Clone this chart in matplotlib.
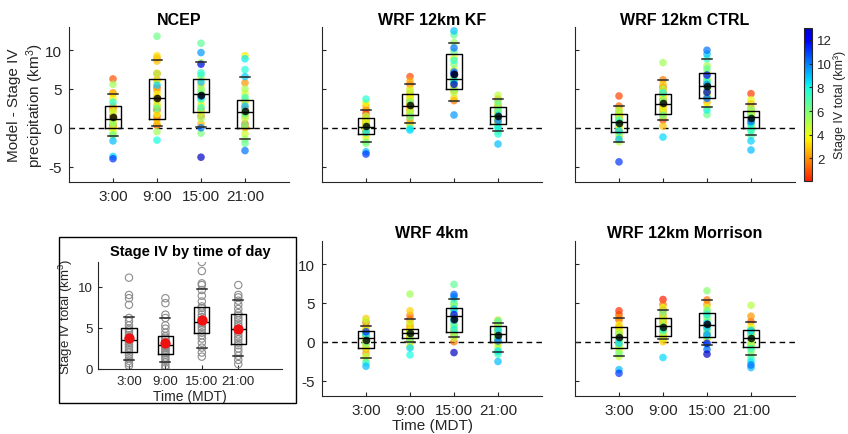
import numpy as np
import matplotlib
matplotlib.use("Agg")
import matplotlib.pyplot as plt
from matplotlib import rcParams
from matplotlib.colors import ListedColormap, Normalize
from matplotlib.patches import Rectangle

rcParams['font.family'] = 'sans-serif'
rcParams['font.sans-serif'] = ['Liberation Sans', 'DejaVu Sans']
rcParams['mathtext.default'] = 'regular'
rcParams['font.size'] = 10

times = ['3:00', '9:00', '15:00', '21:00']

# Stage IV totals per day (km^3), one list per time of day, sorted
stage4_03 = [0.4, 0.7, 1.0, 1.3, 1.7, 2.0, 2.3, 2.6, 2.9, 3.1, 3.3, 3.5, 3.6,
             3.8, 4.1, 4.4, 4.7, 4.9, 5.3, 5.8, 6.2, 7.8, 8.6, 9.0, 11.1]
stage4_09 = [0.1, 0.4, 0.8, 1.1, 1.4, 1.7, 1.9, 2.1, 2.3, 2.5, 2.7, 2.8, 2.9,
             3.1, 3.3, 3.6, 3.8, 4.0, 4.4, 4.9, 5.3, 6.2, 6.6, 8.0, 8.6]
stage4_15 = [1.5, 2.0, 2.6, 3.2, 3.7, 4.1, 4.4, 4.8, 5.1, 5.4, 5.6, 5.8, 6.0,
             6.3, 6.6, 7.0, 7.4, 7.6, 8.2, 8.9, 9.6, 10.2, 10.4, 11.9, 13.0]
stage4_21 = [0.6, 1.1, 1.6, 2.1, 2.5, 2.9, 3.2, 3.6, 3.9, 4.2, 4.5, 4.8, 4.9,
             5.2, 5.5, 5.9, 6.2, 6.5, 6.8, 7.3, 7.8, 8.3, 8.7, 9.0, 10.2]

# Model minus Stage IV, same day order as the stage4 lists
ncep_03 = [0.3, 1.5, 6.3, 2.5, 4.5, 0.2, 2.8, 1.1, 4.4, 1.3, 2.2, 0.0, 3.8,
           1.0, -0.5, 0.7, 2.0, -1.0, 5.6, 0.5, -0.9, 3.3, -3.7, -1.7, -4.0]
ncep_09 = [2.3, 0.3, 5.2, 1.5, 7.0, 3.9, 9.0, 1.1, 6.2, 4.8, 2.8, 8.6, 3.5,
           0.5, 9.3, 4.3, 1.8, 6.0, 3.0, 7.0, -0.5, 11.8, 2.5, -1.6, 5.5]
ncep_15 = [1.5, 2.3, 0.5, 5.5, 3.0, 6.3, 2.0, 4.7, 8.4, 1.2, 3.6, 5.0, -0.7,
           4.4, 10.9, 6.8, 2.6, 7.1, 3.8, 5.9, 9.7, 0.0, 4.1, 8.2, -3.8]
ncep_21 = [0.1, 0.5, 2.5, 5.8, 0.0, 1.5, 3.3, 9.3, 2.0, 4.4, -0.8, 3.6, 1.2,
           5.0, -1.5, 2.2, 0.3, -2.0, 1.8, 3.9, 7.5, 8.9, 6.6, 2.8, -2.95]

kf_03 = [0.5, 1.8, 2.3, 0.9, -0.3, 1.3, 0.0, 2.8, -0.8, 0.4, 1.0, -0.5, 0.2,
         3.2, -1.2, 0.7, -0.2, 1.5, -1.8, 0.1, -2.0, 3.7, -0.6, -3.1, -3.4]
kf_09 = [3.0, 1.6, 6.6, 2.8, 5.6, 0.6, 4.4, 2.2, 3.5, 6.0, 1.1, 4.0, 2.5,
         3.2, 5.0, 1.9, 2.9, 3.8, 0.3, 4.7, 2.0, 3.3, 1.4, -0.1, -0.3]
kf_15 = [3.5, 4.8, 6.0, 3.8, 9.0, 5.3, 7.5, 4.5, 6.3, 11.0, 5.0, 8.2, 6.6,
         9.8, 12.0, 5.8, 7.0, 8.7, 6.1, 12.5, 1.65, 10.3, 7.2, 6.9, 5.6]
kf_21 = [2.7, 1.5, 3.7, 0.8, 2.0, 1.2, 3.0, 0.4, 1.8, 2.4, 1.0, 4.2, 1.5,
         0.6, 2.9, -0.4, 1.3, 3.4, 0.2, 2.2, -0.8, 0.0, 1.6, -2.1, 0.9]

ctrl_03 = [1.5, 4.1, 0.7, 2.8, 0.3, 1.9, -0.3, 1.1, 2.4, 0.5, -0.6, 1.3, 0.0,
           0.9, -1.2, 1.7, -1.8, 0.2, 2.2, -0.9, 0.6, 1.0, -0.4, -1.5, -4.4]
ctrl_09 = [3.1, 5.2, 1.0, 4.4, 2.2, 6.2, 3.6, 1.8, 4.8, 2.7, 3.3, 0.2, 5.6,
           3.9, 1.4, 2.5, 4.1, 3.0, 2.0, 5.0, 8.4, 3.5, 1.6, 4.5, -1.2]
ctrl_15 = [4.5, 5.5, 3.3, 6.2, 2.7, 5.0, 7.1, 4.2, 8.0, 5.8, 3.9, 6.5, 4.8,
           1.7, 7.6, 5.3, 8.9, 6.0, 2.3, 9.5, 5.6, 10.0, 3.8, 6.8, 4.6]
ctrl_21 = [4.4, 2.1, 3.1, 1.4, 1.8, 2.6, 0.9, 1.5, 3.6, 0.3, 1.2, 2.0, 0.6,
           1.7, -0.4, 2.4, 0.0, 1.0, -1.0, 1.3, -0.3, 0.5, -1.7, -2.87, 0.8]

wrf4_03 = [0.5, 2.5, -0.9, 1.4, 0.0, 2.0, -1.5, 0.8, 3.0, -0.4, 1.2, -2.2, 0.3,
           1.7, -0.8, 0.6, 2.7, -1.9, 0.2, 1.0, -0.2, -2.7, 0.9, -3.16, 1.3]
wrf4_09 = [1.1, 1.6, 2.9, 0.4, 1.4, 3.4, 0.8, 1.2, 2.2, 0.0, 1.9, 0.6, 1.0,
           4.0, 1.3, 0.5, 1.5, -0.6, 2.5, 0.9, 6.15, 1.1, 0.2, -1.7, -0.8]
wrf4_15 = [0.0, 0.8, 1.2, 1.5, 3.3, 2.0, 4.4, 0.5, 3.6, 5.0, 2.6, 1.0, 3.9,
           4.8, 7.4, 2.2, 5.5, 3.0, 1.6, 4.2, 5.8, 2.8, 6.1, 3.5, -1.4]
wrf4_21 = [1.0, 0.5, 2.1, 0.0, 1.6, 0.3, 2.8, 1.2, -0.3, 1.8, 0.8, 2.5, 1.4,
           -0.8, 2.0, 0.6, 1.1, -1.3, 2.7, -1.6, 0.4, -1.2, 1.5, -2.55, 0.1]

morr_03 = [4.0, 3.5, 1.9, 2.8, 0.6, 3.1, 1.2, -0.3, 0.2, 1.6, -0.8, 0.9, 2.2,
           0.0, -1.2, 1.4, -1.9, 0.5, -0.6, 1.0, -1.5, 0.3, -0.2, -3.6, -4.07]
morr_09 = [5.45, 4.1, 3.0, 2.0, 4.8, 0.7, 2.6, 1.4, 3.5, 0.35, 2.2, 1.8, 0.0,
           3.1, 2.5, 1.0, 1.6, 4.4, 0.5, 2.9, 1.2, 3.8, 2.0, 1.5, -2.03]
morr_15 = [5.4, 4.8, 1.0, 3.7, 0.3, 2.1, 4.4, 1.6, 2.8, 0.6, 3.2, 6.58, 2.0,
           1.3, 4.0, 0.8, 2.5, -0.4, 3.5, 1.8, 0.9, 2.3, -1.0, -0.2, -1.6]
morr_21 = [1.5, 2.6, 0.4, 3.3, 1.0, -0.3, 0.7, 2.0, -0.7, 1.2, 0.2, -1.2, 4.7,
           0.0, -0.5, 1.6, -1.7, 0.5, 0.9, -2.2, -0.9, -2.6, 1.4, -3.33, -3.0]

# box statistics, per time: q1, median, q3, lower cap, upper cap, mean
ncep_q1 = [0.0, 1.17, 2.09, 0.0]
ncep_med = [1.1, 3.87, 4.4, 2.04]
ncep_q3 = [2.8, 6.26, 6.35, 3.57]
ncep_lo = [-1.05, 0.26, 0.04, -1.5]
ncep_hi = [4.35, 8.7, 8.5, 6.6]
ncep_mean = [1.35, 3.8, 4.17, 2.17]

kf_q1 = [-0.8, 1.6, 4.96, 0.43]
kf_med = [0.1, 2.8, 6.35, 1.48]
kf_q3 = [1.3, 4.4, 9.5, 2.7]
kf_lo = [-1.8, 0.6, 3.5, -0.43]
kf_hi = [2.3, 5.6, 11.0, 3.7]
kf_mean = [0.26, 3.0, 6.9, 1.57]

ctrl_q1 = [-0.6, 1.8, 3.87, 0.0]
ctrl_med = [0.7, 3.1, 5.35, 1.4]
ctrl_q3 = [1.78, 4.4, 7.1, 2.13]
ctrl_lo = [-1.8, 1.0, 2.65, -0.96]
ctrl_hi = [2.83, 6.2, 8.87, 3.1]
ctrl_mean = [0.57, 3.13, 5.43, 1.2]

wrf4_q1 = [-0.87, 0.43, 1.21, 0.0]
wrf4_med = [0.48, 1.13, 3.29, 1.0]
wrf4_q3 = [1.39, 1.64, 4.37, 2.08]
wrf4_lo = [-2.16, -0.04, 0.6, -1.26]
wrf4_hi = [2.08, 2.9, 5.54, 2.47]
wrf4_mean = [0.17, 1.17, 2.94, 0.82]

morr_q1 = [-0.82, 0.69, 0.6, -0.74]
morr_med = [0.6, 2.0, 2.12, 0.43]
morr_q3 = [1.86, 3.07, 3.68, 1.47]
morr_lo = [-1.86, 0.35, -0.39, -1.73]
morr_hi = [3.1, 4.1, 5.45, 2.6]
morr_mean = [0.56, 1.95, 2.3, 0.52]

s4_q1 = [2.04, 1.84, 4.33, 3.02]
s4_med = [3.55, 2.9, 5.67, 4.9]
s4_q3 = [4.94, 4.0, 7.5, 6.65]
s4_lo = [1.14, 0.9, 2.57, 1.63]
s4_hi = [6.33, 6.2, 9.67, 8.33]
s4_mean = [3.71, 3.18, 5.92, 4.9]

stage4 = [stage4_03, stage4_09, stage4_15, stage4_21]
panels = [
    ('NCEP', [ncep_03, ncep_09, ncep_15, ncep_21],
     (ncep_q1, ncep_med, ncep_q3, ncep_lo, ncep_hi, ncep_mean)),
    ('WRF 12km KF', [kf_03, kf_09, kf_15, kf_21],
     (kf_q1, kf_med, kf_q3, kf_lo, kf_hi, kf_mean)),
    ('WRF 12km CTRL', [ctrl_03, ctrl_09, ctrl_15, ctrl_21],
     (ctrl_q1, ctrl_med, ctrl_q3, ctrl_lo, ctrl_hi, ctrl_mean)),
    ('WRF 4km', [wrf4_03, wrf4_09, wrf4_15, wrf4_21],
     (wrf4_q1, wrf4_med, wrf4_q3, wrf4_lo, wrf4_hi, wrf4_mean)),
    ('WRF 12km Morrison', [morr_03, morr_09, morr_15, morr_21],
     (morr_q1, morr_med, morr_q3, morr_lo, morr_hi, morr_mean)),
]

W, H = 848, 435
# axes rectangles in pixels: left, top (all panels are AW x AH)
rects = [(69, 28), (322, 28), (575, 28), (322, 242), (575, 242)]
AW, AH = 220, 155

cmap = ListedColormap(plt.cm.jet(np.linspace(0.875, 0.06, 256)))
all_s4 = np.concatenate(stage4)
norm = Normalize(vmin=all_s4.min(), vmax=all_s4.max())

GRAY = '#262626'


def px_axes(fig, left, top, w, h):
    return fig.add_axes([left / W, 1 - (top + h) / H, w / W, h / H])


def style_axes(ax):
    for s in ['top', 'right']:
        ax.spines[s].set_visible(False)
    for s in ['left', 'bottom']:
        ax.spines[s].set_color(GRAY)
        ax.spines[s].set_linewidth(0.8)
    ax.tick_params(direction='in', length=3, colors=GRAY, labelsize=11, pad=5)


def draw_boxes(ax, stats, width, lw=1.0):
    q1, med, q3, lo, hi, mean = stats
    bxs = []
    for i in range(4):
        bxs.append(dict(q1=q1[i], med=med[i], q3=q3[i], whislo=lo[i],
                        whishi=hi[i], mean=mean[i], fliers=[]))
    bp = ax.bxp(bxs, positions=[1, 2, 3, 4], widths=width, showmeans=False,
                showfliers=False, patch_artist=False, manage_ticks=False,
                boxprops=dict(color='black', linewidth=lw),
                medianprops=dict(color='black', linewidth=lw),
                capprops=dict(color=GRAY, linewidth=1.1),
                capwidths=width * 0.65)
    for w in bp['whiskers']:
        w.set_visible(False)
    for art in bp['boxes'] + bp['medians'] + bp['caps']:
        art.set_zorder(4)


fig = plt.figure(figsize=(W / 100, H / 100), dpi=100)

for k, (title, diffs, stats) in enumerate(panels):
    left, top = rects[k]
    ax = px_axes(fig, left, top, AW, AH)
    style_axes(ax)
    ax.axhline(0, color='black', linestyle=(0, (4, 3)), linewidth=1.0, zorder=1)
    for i in range(4):
        ax.scatter(np.full(len(diffs[i]), i + 1), diffs[i], c=stage4[i],
                   cmap=cmap, norm=norm, s=30, alpha=0.7, linewidths=0, zorder=2)
    draw_boxes(ax, stats, 0.37)
    ax.scatter([1, 2, 3, 4], stats[5], color='black', s=30, alpha=0.8,
               linewidths=0, zorder=5)
    ax.set_xlim(0, 5)
    ax.set_ylim(-7, 13)
    ax.set_xticks([1, 2, 3, 4])
    ax.set_yticks([-5, 0, 5, 10])
    ax.set_title(title, fontsize=11.5, fontweight='bold', pad=1.5 if k < 3 else 3)
    if k in (0, 3, 4):
        ax.set_xticklabels(times)
    else:
        ax.set_xticklabels([])
    if k in (0, 3):
        ax.set_yticklabels(['-5', '0', '5', '10'])
    else:
        ax.set_yticklabels([])
    if k == 0:
        ax.set_ylabel('Model - Stage IV\nprecipitation (km$^3$)', fontsize=11,
                      color=GRAY, labelpad=-1, linespacing=1.25)
    if k == 3:
        ax.set_xlabel('Time (MDT)', fontsize=11, color=GRAY, labelpad=1)

# colorbar
cax = px_axes(fig, 804, 29, 8, 153)
sm = plt.cm.ScalarMappable(cmap=cmap, norm=norm)
cb = fig.colorbar(sm, cax=cax, ticks=[2, 4, 6, 8, 10, 12])
cb.outline.set_edgecolor(GRAY)
cb.outline.set_linewidth(0.8)
cax.tick_params(direction='in', length=2, colors=GRAY, labelsize=9.5)
fig.text(840 / W, 1 - 105 / H, 'Stage IV total (km³)', rotation=90,
         ha='center', va='center', fontsize=9, color=GRAY)

# inset: Stage IV by time of day
fig.add_artist(Rectangle((59 / W, 1 - 404 / H), 237 / W, 166 / H,
                         transform=fig.transFigure, fill=False,
                         edgecolor='black', linewidth=1.0))
iax = px_axes(fig, 98, 263, 184, 107)
style_axes(iax)
iax.tick_params(labelsize=9.5, pad=4)
for i in range(4):
    iax.scatter(np.full(len(stage4[i]), i + 1), stage4[i], facecolors='none',
                edgecolors='#8c8c8c', s=28, linewidths=0.8, zorder=2)
draw_boxes(iax, (s4_q1, s4_med, s4_q3, s4_lo, s4_hi, s4_mean), 0.42)
iax.scatter([1, 2, 3, 4], s4_mean, color='#ee1111', s=55, linewidths=0, zorder=5)
iax.set_xlim(0.15, 5.2)
iax.set_ylim(0, 13)
iax.set_xticks([1, 2, 3, 4])
iax.set_xticklabels(times)
iax.set_yticks([0, 5, 10])
iax.set_title('Stage IV by time of day', fontsize=10.5, fontweight='bold', pad=5)
iax.set_xlabel('Time (MDT)', fontsize=10, color=GRAY, labelpad=2)
iax.set_ylabel('Stage IV total (km$^3$)', fontsize=9.5, color=GRAY, labelpad=2)

fig.savefig('out.png', dpi=100, facecolor='white')
